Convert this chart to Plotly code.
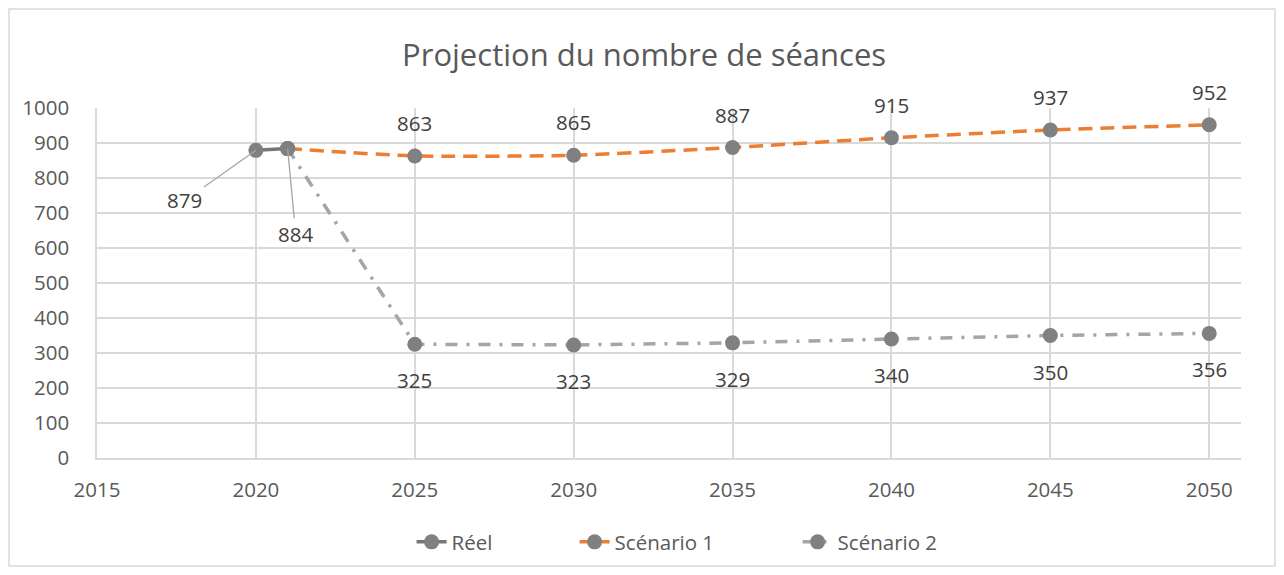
import plotly.graph_objects as go

years_reel = [2020, 2021]
reel = [879, 884]
years_scen = [2021, 2025, 2030, 2035, 2040, 2045, 2050]
scen1 = [884, 863, 865, 887, 915, 937, 952]
scen2 = [884, 325, 323, 329, 340, 350, 356]

FONT = "Open Sans"
MARK = "#808080"
LBL = "#404040"
TICK = "#595959"
GRID = "#d9d9d9"

fig = go.Figure()
fig.add_trace(go.Scatter(
    x=years_scen, y=scen2, name="Scénario 2", mode="lines+markers", legendwidth=145,
    line=dict(color="#A5A5A5", width=3.5, dash="12px,9px,3px,9px"),
    marker=dict(color=MARK, size=15)))
fig.add_trace(go.Scatter(
    x=years_scen, y=scen1, name="Scénario 1", mode="lines+markers", legendwidth=178,
    line=dict(color="#ED7D31", width=3.5, dash="14px,8px", shape="spline", smoothing=0.6),
    marker=dict(color=MARK, size=15)))
fig.add_trace(go.Scatter(
    x=years_reel, y=reel, name="Réel", mode="lines+markers", legendwidth=118,
    line=dict(color="#767676", width=3.5),
    marker=dict(color=MARK, size=15)))

LSIZE = 20.5
ann = []
for x, y in zip(years_scen[1:], scen1[1:]):
    ann.append(dict(x=x, y=y, text=str(y), showarrow=False, yshift=33,
                    font=dict(family=FONT, size=LSIZE, color=LBL)))
for x, y in zip(years_scen[1:], scen2[1:]):
    ann.append(dict(x=x, y=y, text=str(y), showarrow=False, yshift=-36,
                    font=dict(family=FONT, size=LSIZE, color=LBL)))
# leader-line labels for Réel
ann.append(dict(x=years_reel[0], y=reel[0], text=str(reel[0]), showarrow=True,
                arrowhead=0, arrowwidth=1.3, arrowcolor="#a6a6a6", ax=-71, ay=50,
                standoff=0, font=dict(family=FONT, size=LSIZE, color=LBL)))
ann.append(dict(x=years_reel[1], y=reel[1], text=str(reel[1]), showarrow=True,
                arrowhead=0, arrowwidth=1.3, arrowcolor="#a6a6a6", ax=8, ay=85,
                standoff=0, font=dict(family=FONT, size=LSIZE, color=LBL)))

fig.update_layout(
    width=1276, height=567,
    margin=dict(l=89, r=43, t=100, b=117),
    paper_bgcolor="white", plot_bgcolor="white",
    font=dict(family=FONT, color=TICK),
    title=dict(text="Projection du nombre de séances", x=0.4985, xanchor="center",
               y=0.917, yanchor="middle", font=dict(family=FONT, size=31, color=TICK)),
    xaxis=dict(range=[2015, 2051], tick0=2015, dtick=5, showgrid=True, gridcolor=GRID,
               gridwidth=1.5, showline=True, linecolor=GRID, linewidth=1.5, zeroline=False,
               ticks="", ticklabelstandoff=13, tickfont=dict(family=FONT, size=20.5, color=TICK)),
    yaxis=dict(range=[0, 1000], dtick=100, showgrid=True, gridcolor=GRID, gridwidth=1.5,
               showline=True, linecolor=GRID, linewidth=1.5, zeroline=False, ticks="",
               ticklabelstandoff=22, tickfont=dict(family=FONT, size=20.5, color=TICK)),
    legend=dict(orientation="h", x=0.275, xanchor="left", y=-0.24, yanchor="middle",
                traceorder="reversed", font=dict(family=FONT, size=20.5, color=TICK)),
    annotations=ann,
    shapes=[dict(type="rect", xref="paper", yref="paper", x0=-0.0769, x1=1.0297,
                 y0=-0.3086, y1=1.283, line=dict(color=GRID, width=1.5), layer="below")],
    showlegend=True,
)

fig.write_html("out.html")
